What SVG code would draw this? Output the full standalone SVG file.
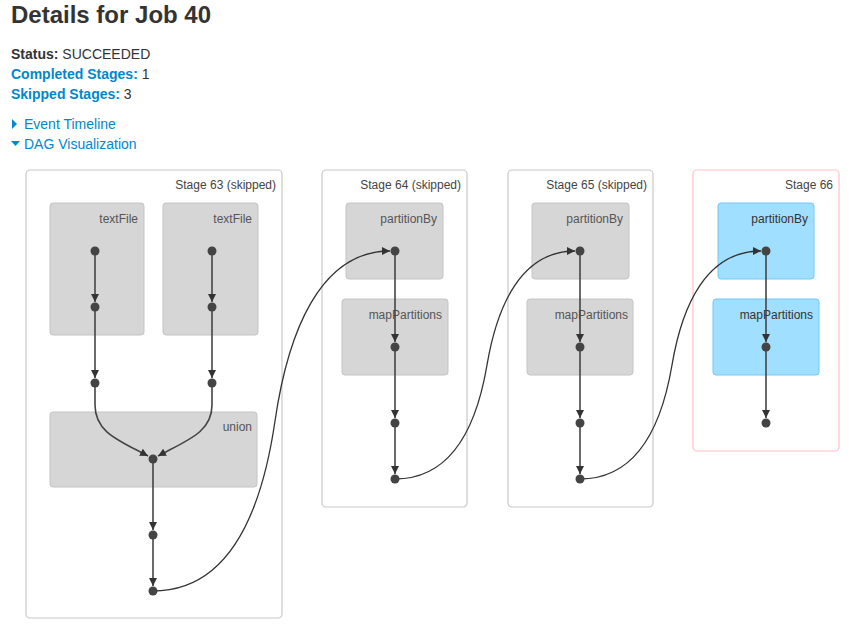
<svg xmlns="http://www.w3.org/2000/svg" width="852" height="631" viewBox="0 0 852 631">
  <defs>
    <marker id="arrow" viewBox="0 0 10 10" refX="10" refY="5" markerWidth="8" markerHeight="8" markerUnits="userSpaceOnUse" orient="auto">
      <path d="M0,0 L10,5 L0,10 Z" fill="#333"/>
    </marker>
    <style>
      text { font-family: "Liberation Sans", Arial, sans-serif; }
      .title { font-size: 24px; font-weight: bold; fill: #333; }
      .info { font-size: 14px; fill: #333; }
      .key { font-weight: bold; }
      .link { fill: #0088cc; }
      .stage { fill: #fff; stroke: #c8c8c8; stroke-width: 1.2; }
      .stage.active { stroke: #ffc0cb; }
      .stage-label { font-size: 12px; fill: #444; text-anchor: end; }
      .op { fill: #d6d6d6; stroke: #c4c4c4; stroke-width: 1; }
      .op.active { fill: #a0dfff; stroke: #71c8f5; }
      .op-label { font-size: 12px; fill: #555; text-anchor: end; }
      .op.active + .op-label { fill: #333; }
      .edge { fill: none; stroke: #444; stroke-width: 1.6; }
      .cross { fill: none; stroke: #333; stroke-width: 1.3; }
      .dot { fill: #444; }
    </style>
  </defs>

  <!-- page header -->
  <text class="title" x="11" y="23">Details for Job 40</text>
  <text class="info" x="11" y="59"><tspan class="key">Status:</tspan> SUCCEEDED</text>
  <text class="info" x="11" y="79"><tspan class="key link">Completed Stages:</tspan> 1</text>
  <text class="info" x="11" y="99"><tspan class="key link">Skipped Stages:</tspan> 3</text>
  <path d="M12,119 L17,124 L12,129 Z" fill="#0088cc"/>
  <text class="info link" x="24" y="129">Event Timeline</text>
  <path d="M11,141 L20,141 L15.5,146 Z" fill="#0088cc"/>
  <text class="info link" x="24" y="149">DAG Visualization</text>

  <!-- stage clusters -->
  <g id="stage-63">
    <rect class="stage" x="26" y="170" width="256" height="448" rx="4"/>
    <text class="stage-label" x="276" y="189">Stage 63 (skipped)</text>
    <g id="stage-63-textFile-a">
      <rect class="op" x="50" y="203" width="94" height="132" rx="3"/>
      <text class="op-label" x="138" y="223">textFile</text>
    </g>
    <g id="stage-63-textFile-b">
      <rect class="op" x="163" y="203" width="95" height="132" rx="3"/>
      <text class="op-label" x="252" y="223">textFile</text>
    </g>
    <g id="stage-63-union">
      <rect class="op" x="50" y="412" width="207" height="75" rx="3"/>
      <text class="op-label" x="252" y="431">union</text>
    </g>
  </g>

  <g id="stage-64">
    <rect class="stage" x="322" y="170" width="145" height="337" rx="4"/>
    <text class="stage-label" x="461" y="189">Stage 64 (skipped)</text>
    <g id="stage-64-partitionBy">
      <rect class="op" x="346" y="203" width="97" height="76" rx="3"/>
      <text class="op-label" x="437" y="223">partitionBy</text>
    </g>
    <g id="stage-64-mapPartitions">
      <rect class="op" x="342" y="299" width="106" height="76" rx="3"/>
      <text class="op-label" x="442" y="319">mapPartitions</text>
    </g>
  </g>

  <g id="stage-65">
    <rect class="stage" x="508" y="170" width="145" height="337" rx="4"/>
    <text class="stage-label" x="647" y="189">Stage 65 (skipped)</text>
    <g id="stage-65-partitionBy">
      <rect class="op" x="532" y="203" width="97" height="76" rx="3"/>
      <text class="op-label" x="623" y="223">partitionBy</text>
    </g>
    <g id="stage-65-mapPartitions">
      <rect class="op" x="527" y="299" width="106" height="76" rx="3"/>
      <text class="op-label" x="628" y="319">mapPartitions</text>
    </g>
  </g>

  <g id="stage-66">
    <rect class="stage active" x="693" y="170" width="146" height="281" rx="4"/>
    <text class="stage-label" x="833" y="189">Stage 66</text>
    <g id="stage-66-partitionBy">
      <rect class="op active" x="718" y="203" width="96" height="76" rx="3"/>
      <text class="op-label" x="808" y="223">partitionBy</text>
    </g>
    <g id="stage-66-mapPartitions">
      <rect class="op active" x="713" y="299" width="106" height="76" rx="3"/>
      <text class="op-label" x="813" y="319">mapPartitions</text>
    </g>
  </g>

  <!-- RDD edges -->
  <g id="edges" marker-end="url(#arrow)">
    <path class="edge" d="M95,251 L95,302"/>
    <path class="edge" d="M95,307 L95,378"/>
    <path class="edge" d="M212,251 L212,302"/>
    <path class="edge" d="M212,307 L212,378"/>
    <path class="edge" d="M95,383 L95,405 C95,432 118,440 148,456"/>
    <path class="edge" d="M212,383 L212,405 C212,432 188,440 158,456"/>
    <path class="edge" d="M153,459 L153,530"/>
    <path class="edge" d="M153,535 L153,586"/>
    <path class="cross" d="M153,591 C230,591 262,510 275,421 C288,332 320,251 390,251"/>

    <path class="edge" d="M395,251 L395,342"/>
    <path class="edge" d="M395,347 L395,418"/>
    <path class="edge" d="M395,423 L395,474"/>
    <path class="cross" d="M395,479 C453,479 477,424 487,365 C497,306 521,251 575,251"/>

    <path class="edge" d="M580,251 L580,342"/>
    <path class="edge" d="M580,347 L580,418"/>
    <path class="edge" d="M580,423 L580,474"/>
    <path class="cross" d="M580,479 C638,479 662,424 672,365 C682,306 706,251 761,251"/>

    <path class="edge" d="M766,251 L766,342"/>
    <path class="edge" d="M766,347 L766,418"/>
  </g>

  <!-- RDD nodes -->
  <g id="rdds">
    <circle class="dot" cx="95" cy="251" r="4.5"/>
    <circle class="dot" cx="95" cy="307" r="4.5"/>
    <circle class="dot" cx="95" cy="383" r="4.5"/>
    <circle class="dot" cx="212" cy="251" r="4.5"/>
    <circle class="dot" cx="212" cy="307" r="4.5"/>
    <circle class="dot" cx="212" cy="383" r="4.5"/>
    <circle class="dot" cx="153" cy="459" r="4.5"/>
    <circle class="dot" cx="153" cy="535" r="4.5"/>
    <circle class="dot" cx="153" cy="591" r="4.5"/>
    <circle class="dot" cx="395" cy="251" r="4.5"/>
    <circle class="dot" cx="395" cy="347" r="4.5"/>
    <circle class="dot" cx="395" cy="423" r="4.5"/>
    <circle class="dot" cx="395" cy="479" r="4.5"/>
    <circle class="dot" cx="580" cy="251" r="4.5"/>
    <circle class="dot" cx="580" cy="347" r="4.5"/>
    <circle class="dot" cx="580" cy="423" r="4.5"/>
    <circle class="dot" cx="580" cy="479" r="4.5"/>
    <circle class="dot" cx="766" cy="251" r="4.5"/>
    <circle class="dot" cx="766" cy="347" r="4.5"/>
    <circle class="dot" cx="766" cy="423" r="4.5"/>
  </g>
</svg>
